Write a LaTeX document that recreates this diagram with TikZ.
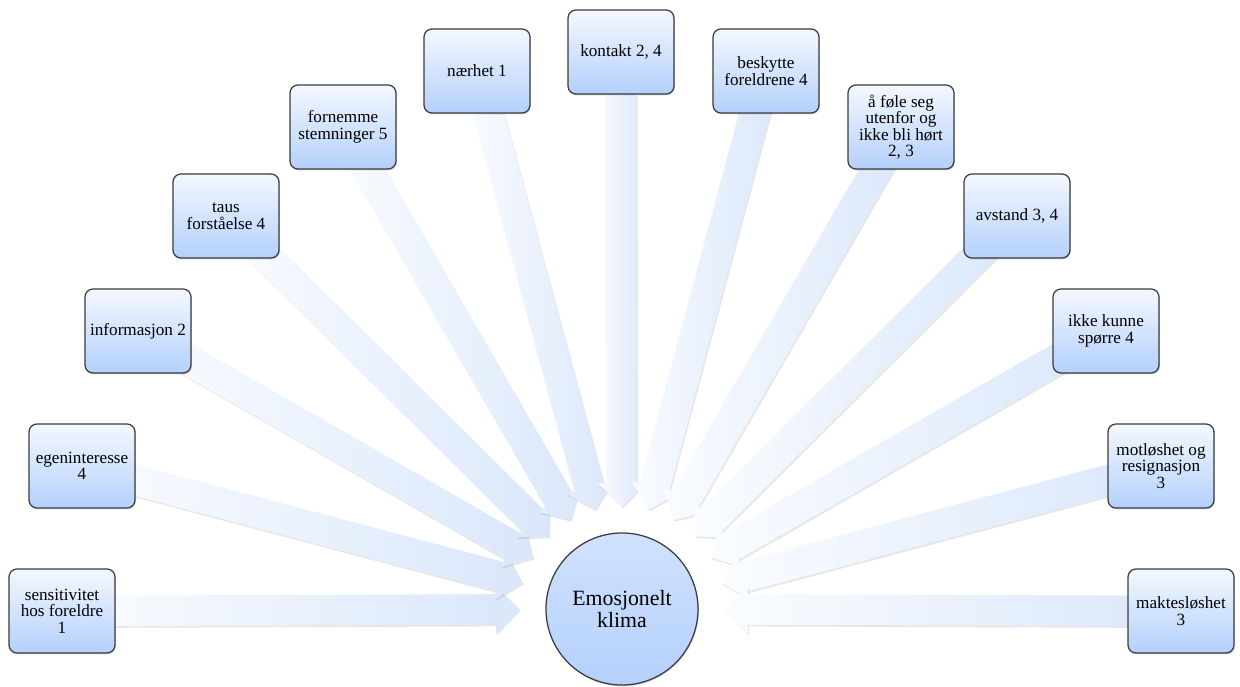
\documentclass[tikz,border=0pt]{standalone}
\usepackage{fontspec}
\setmainfont{Liberation Serif}
\usetikzlibrary{shapes.arrows, shadows, calc, backgrounds}

\definecolor{boxtop}{RGB}{244,248,255}
\definecolor{boxbot}{RGB}{180,208,252}
\definecolor{boxline}{RGB}{60,60,60}
\definecolor{arrtail}{RGB}{250,252,255}
\definecolor{arrtip}{RGB}{218,231,250}

\begin{document}
\begin{tikzpicture}[x=0.025cm, y=-0.025cm,
	theme/.style={rectangle, rounded corners=0.2cm, draw=boxline, line width=0.9pt,
		top color=boxtop, bottom color=boxbot, minimum width=2.65cm, minimum height=2.1cm,
		inner sep=1pt, align=center, font=\fontsize{12.2}{11.8}\selectfont,
		drop shadow={shadow xshift=0.6pt, shadow yshift=-1pt, opacity=0.3}},
	hub/.style={circle, draw=boxline, line width=0.9pt, top color=boxtop!45!boxbot,
		bottom color=boxbot, minimum size=3.8cm, inner sep=0pt, align=center,
		font=\fontsize{15.5}{15}\selectfont,
		drop shadow={shadow xshift=0.6pt, shadow yshift=-1pt, opacity=0.3}},
	spoke/.style={single arrow, draw=none, inner xsep=0pt, inner ysep=0.375cm,
		single arrow head extend=0.22cm, single arrow tip angle=92,
		left color=arrtail, right color=arrtip,
		drop shadow={shadow xshift=0.8pt, shadow yshift=-1.2pt, opacity=0.2}}]

	\useasboundingbox (0,0) rectangle (1240,686);

	\node[hub] (klima) at (622,609) {Emosjonelt\\klima};

	% left half
	\node[theme] (sens) at (62,611) {sensitivitet\\hos foreldre\\1};
	\node[theme] (egen) at (82,466) {egeninteresse\\4};
	\node[theme] (info) at (138,331) {informasjon 2};
	\node[theme] (taus) at (226,216) {taus\\forståelse 4};
	\node[theme] (forn) at (343,127) {fornemme\\stemninger 5};
	\node[theme] (naer) at (477,71) {nærhet 1};
	\node[theme] (kont) at (621,52) {kontakt 2, 4};

	% right half
	\node[theme] (besk) at (766,71) {beskytte\\foreldrene 4};
	\node[theme] (fole) at (901,127) {å føle seg\\utenfor og\\ikke bli hørt\\2, 3};
	\node[theme] (avst) at (1017,216) {avstand 3, 4};
	\node[theme] (ikke) at (1106,331) {ikke kunne\\spørre 4};
	\node[theme] (motl) at (1161,466) {motløshet og\\resignasjon\\3};
	\node[theme] (makt) at (1181,611) {maktesløshet\\3};

	% arrows behind the boxes
	\begin{pgfonlayer}{background}
	\foreach \b in {sens,egen,info,taus,forn,naer,kont,besk,fole,avst,ikke,motl,makt} {
		\coordinate (tip-\b) at ($(klima.center)!2.75cm!(\b)$);
		\path let \p1=($(tip-\b)-(\b)$), \n1={atan2(\y1,\x1)}, \n2={veclen(\x1,\y1)} in
			node[spoke, rotate=\n1, minimum height=\n2] (arr-\b) at ($(\b)!0.5!(tip-\b)$) {};
	}
	\end{pgfonlayer}
\end{tikzpicture}
\end{document}
